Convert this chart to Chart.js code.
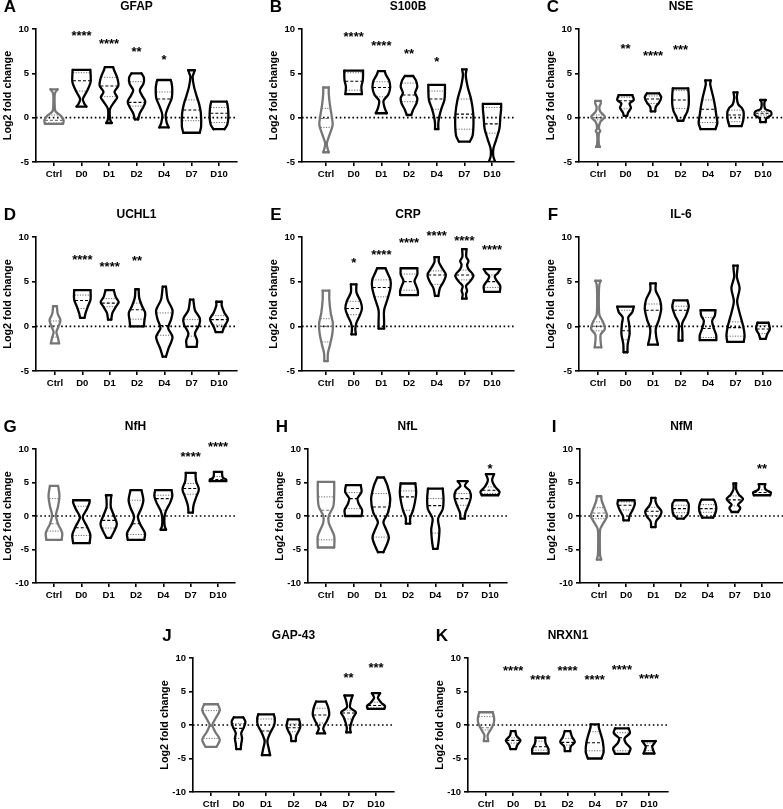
<!DOCTYPE html>
<html>
<head>
<meta charset="utf-8">
<script src="https://cdn.jsdelivr.net/npm/chart.js@4.4.1/dist/chart.umd.min.js"></script>
<style>
  html, body { margin: 0; padding: 0; background: #fff; }
  #fig { position: relative; width: 783px; height: 809px; overflow: hidden; }
  #fig canvas { position: absolute; }
</style>
</head>
<body>
<div id="fig"></div>
<script>
const GROUPS = ["Ctrl", "D0", "D1", "D2", "D4", "D7", "D10"];

// Violin outlines: [log2 value, half width] from bottom to top, one list per group
// Quartiles: [q1, median, q3]; stars: label and height
const gfapShape = [
	[[-0.7, 0.33], [-0.3, 0.35], [0.2, 0.25], [0.7, 0.06], [1.1, 0.03], [2.7, 0.03], [3.2, 0.13]],
	[[1.25, 0.18], [1.6, 0.1], [2.1, 0.05], [3.0, 0.2], [4.0, 0.33], [5.0, 0.33], [5.4, 0.32]],
	[[-0.6, 0.1], [-0.2, 0.04], [1.0, 0.04], [1.8, 0.2], [2.3, 0.3], [2.9, 0.2], [3.6, 0.34], [4.5, 0.3], [5.4, 0.18], [5.7, 0.15]],
	[[-0.2, 0.06], [0.5, 0.12], [1.2, 0.25], [1.8, 0.32], [2.5, 0.2], [3.1, 0.12], [3.8, 0.25], [4.5, 0.27], [5.0, 0.18]],
	[[-1.1, 0.17], [-0.6, 0.1], [0.3, 0.06], [1.2, 0.15], [2.2, 0.28], [3.3, 0.3], [4.0, 0.27], [4.25, 0.24]],
	[[-1.7, 0.3], [-1.0, 0.35], [0.5, 0.34], [1.5, 0.28], [2.5, 0.18], [3.5, 0.09], [4.6, 0.04], [5.0, 0.08], [5.35, 0.12]],
	[[-1.3, 0.2], [-0.8, 0.3], [0, 0.34], [1.0, 0.33], [1.6, 0.3], [1.8, 0.28]],
];
const gfapQuart = [[-0.6, -0.3, 0.3], [3.0, 4.17, 5.07], [2.37, 3.57, 4.55], [1.3, 1.73, 4.06], [0.0, 2.1, 2.9], [-0.34, 0.86, 2.0], [-0.55, 0.5, 1.15]];
const gfapStars = ["", "****", "****", "**", "*", "", ""];
const gfapStarY = [null, 9.6, 8.7, 7.8, 6.9, null, null];

const s100bShape = [
	[[-3.9, 0.1], [-3.4, 0.05], [-2.9, 0.03], [-2.0, 0.12], [-0.8, 0.24], [0.3, 0.2], [1.5, 0.14], [2.7, 0.1], [3.4, 0.1]],
	[[2.65, 0.3], [3.5, 0.28], [4.2, 0.33], [5.0, 0.34], [5.3, 0.34]],
	[[0.5, 0.2], [1.1, 0.12], [1.9, 0.08], [2.6, 0.25], [3.4, 0.32], [4.2, 0.28], [4.8, 0.17], [5.25, 0.12]],
	[[0.3, 0.08], [0.9, 0.15], [1.6, 0.27], [2.2, 0.3], [2.8, 0.22], [3.5, 0.3], [4.2, 0.25], [4.7, 0.15]],
	[[-1.3, 0.06], [-0.6, 0.06], [0.2, 0.1], [1.0, 0.17], [2.0, 0.28], [3.0, 0.3], [3.7, 0.3]],
	[[-2.7, 0.2], [-2.0, 0.3], [-0.8, 0.33], [0.5, 0.32], [2.0, 0.25], [3.5, 0.12], [4.8, 0.05], [5.45, 0.08]],
	[[-5.0, 0.12], [-4.4, 0.05], [-3.5, 0.05], [-2.5, 0.15], [-1.2, 0.27], [0, 0.3], [1.0, 0.33], [1.55, 0.33]],
];
const s100bQuart = [[-1.1, -0.1, 1.05], [3.1, 4.1, 5.07], [2.35, 3.4, 4.05], [1.8, 2.55, 3.9], [0.95, 2.1, 3.0], [-1.3, 0.4, 2.1], [-1.75, -0.7, 1.15]];
const s100bStars = ["", "****", "****", "**", "*", "", ""];
const s100bStarY = [null, 9.5, 8.5, 7.55, 6.7, null, null];

const nseShape = [
	[[-3.3, 0.07], [-3.0, 0.03], [-1.8, 0.03], [-1.5, 0.08], [-1.2, 0.03], [-0.5, 0.08], [0.1, 0.25], [0.7, 0.08], [1.2, 0.05], [1.6, 0.1], [1.9, 0.1]],
	[[0.2, 0.06], [0.6, 0.1], [1.1, 0.2], [1.6, 0.15], [2.0, 0.3], [2.55, 0.25]],
	[[0.7, 0.08], [1.2, 0.1], [1.7, 0.22], [2.3, 0.3], [2.75, 0.22]],
	[[-0.35, 0.1], [0.1, 0.15], [0.7, 0.25], [1.5, 0.3], [2.5, 0.3], [3.3, 0.28]],
	[[-1.3, 0.27], [-0.6, 0.34], [0.3, 0.3], [1.2, 0.26], [2.2, 0.2], [3.2, 0.12], [3.8, 0.08], [4.2, 0.1]],
	[[-0.95, 0.22], [-0.3, 0.28], [0.5, 0.3], [1.0, 0.25], [1.5, 0.1], [2.2, 0.05], [2.85, 0.07]],
	[[-0.5, 0.1], [-0.1, 0.12], [0.3, 0.3], [0.7, 0.28], [1.0, 0.08], [1.7, 0.05], [2.0, 0.1]],
];
const nseQuart = [[-0.25, 0, 0.3], [1.0, 1.9, 2.3], [1.6, 2.1, 2.45], [1.05, 2.0, 3.05], [-0.55, 0.95, 2.0], [-0.45, 0.3, 0.85], [0.3, 0.5, 0.7]];
const nseStars = ["", "**", "****", "***", "", "", ""];
const nseStarY = [null, 8.1, 7.4, 8.0, null, null, null];

const uchl1Shape = [
	[[-1.9, 0.15], [-1.2, 0.1], [-0.65, 0.05], [0.0, 0.13], [0.7, 0.2], [1.4, 0.1], [2.25, 0.07]],
	[[0.95, 0.08], [1.5, 0.12], [2.2, 0.2], [3.0, 0.3], [4.05, 0.3]],
	[[0.75, 0.06], [1.5, 0.1], [2.3, 0.25], [2.7, 0.33], [3.3, 0.22], [4.05, 0.15]],
	[[0.0, 0.25], [0.6, 0.27], [1.5, 0.3], [2.3, 0.18], [3.2, 0.08], [4.15, 0.06]],
	[[-3.4, 0.06], [-2.5, 0.15], [-1.2, 0.3], [-0.2, 0.14], [0.8, 0.25], [1.8, 0.3], [3.0, 0.12], [4.45, 0.06]],
	[[-2.3, 0.18], [-1.6, 0.2], [-0.8, 0.12], [0.2, 0.28], [0.9, 0.3], [1.8, 0.12], [3.0, 0.06]],
	[[-0.65, 0.12], [0, 0.2], [0.8, 0.33], [1.5, 0.2], [2.3, 0.1], [2.75, 0.1]],
];
const uchl1Quart = [[-1.2, 0.05, 0.6], [2.0, 2.9, 3.5], [2.2, 2.6, 3.1], [0.8, 1.85, 2.6], [-1.0, 0.1, 1.5], [-1.1, 0, 0.75], [0.15, 0.75, 1.2]];
const uchl1Stars = ["", "****", "****", "**", "", "", ""];
const uchl1StarY = [null, 7.8, 7.0, 7.75, null, null, null];

const crpShape = [
	[[-3.9, 0.06], [-3.0, 0.07], [-2.0, 0.15], [-0.8, 0.23], [0.3, 0.25], [1.5, 0.17], [3.0, 0.12], [4.0, 0.12]],
	[[-0.9, 0.08], [-0.3, 0.06], [0.4, 0.1], [1.2, 0.22], [2.0, 0.3], [2.8, 0.25], [3.8, 0.1], [4.7, 0.1]],
	[[-0.25, 0.1], [0.5, 0.1], [1.8, 0.1], [3.0, 0.22], [4.3, 0.33], [5.2, 0.33], [6.0, 0.22], [6.5, 0.15]],
	[[3.5, 0.32], [4.0, 0.32], [4.6, 0.25], [5.1, 0.2], [5.8, 0.3], [6.5, 0.3]],
	[[3.4, 0.06], [4.3, 0.12], [5.0, 0.25], [5.8, 0.33], [6.5, 0.2], [7.2, 0.08], [7.75, 0.08]],
	[[3.1, 0.08], [3.6, 0.06], [4.0, 0.1], [4.5, 0.06], [5.0, 0.2], [5.7, 0.33], [6.4, 0.15], [6.9, 0.1], [7.3, 0.15], [7.8, 0.07], [8.65, 0.08]],
	[[3.85, 0.28], [4.5, 0.3], [5.2, 0.15], [5.6, 0.1], [6.0, 0.22], [6.4, 0.3]],
];
const crpQuart = [[-1.75, 0, 0.85], [1.3, 2.0, 2.8], [3.3, 4.35, 5.2], [4.05, 5.0, 5.85], [4.7, 5.75, 6.2], [5.2, 5.75, 6.3], [4.35, 5.0, 5.75]];
const crpStars = ["", "*", "****", "****", "****", "****", "****"];
const crpStarY = [null, 7.45, 8.4, 9.7, 10.55, 10.0, 8.95];

const il6Shape = [
	[[-2.35, 0.12], [-1.5, 0.09], [-0.9, 0.1], [-0.3, 0.25], [0.5, 0.18], [1.3, 0.05], [3.5, 0.03], [4.7, 0.05], [5.1, 0.1]],
	[[-2.9, 0.07], [-2.0, 0.08], [-0.8, 0.15], [0.3, 0.13], [1.0, 0.1], [1.6, 0.25], [2.2, 0.3]],
	[[-2.05, 0.18], [-1.2, 0.12], [-0.3, 0.1], [0.8, 0.22], [2.0, 0.3], [3.0, 0.25], [4.0, 0.1], [4.8, 0.1]],
	[[-1.6, 0.07], [-0.8, 0.07], [0.3, 0.06], [1.2, 0.2], [2.2, 0.3], [2.9, 0.25]],
	[[-1.55, 0.3], [-1.0, 0.3], [-0.3, 0.22], [0.6, 0.15], [1.2, 0.25], [1.8, 0.27]],
	[[-1.75, 0.3], [-1.0, 0.33], [0, 0.28], [1.5, 0.15], [2.8, 0.06], [4.3, 0.15], [5.5, 0.05], [6.4, 0.07], [6.8, 0.08]],
	[[-1.4, 0.1], [-0.9, 0.15], [-0.3, 0.25], [0.2, 0.22], [0.4, 0.2]],
];
const il6Quart = [[-0.5, 0, 0.5], [-1.5, -0.5, 1.8], [-0.05, 1.8, 2.5], [0, 1.8, 2.25], [-1.25, -0.25, 1.0], [-1.1, -0.15, 0.5], [-0.8, -0.3, 0.1]];
const il6Stars = ["", "", "", "", "", "", ""];
const il6StarY = [null, null, null, null, null, null, null];

const nfhShape = [
	[[-3.55, 0.28], [-2.5, 0.3], [-1.2, 0.15], [0.1, 0.07], [1.5, 0.15], [3.0, 0.2], [4.5, 0.15]],
	[[-4.05, 0.3], [-2.8, 0.33], [-1.5, 0.2], [-0.2, 0.05], [1.0, 0.2], [2.0, 0.3], [2.35, 0.3]],
	[[-3.25, 0.08], [-2.3, 0.2], [-1.2, 0.3], [0, 0.2], [1.3, 0.08], [2.5, 0.08], [3.1, 0.1]],
	[[-3.55, 0.3], [-2.6, 0.33], [-1.2, 0.15], [-0.1, 0.07], [1.2, 0.2], [2.4, 0.27], [3.85, 0.2]],
	[[-2.05, 0.1], [-1.5, 0.05], [-0.2, 0.04], [0.8, 0.1], [2.0, 0.25], [3.0, 0.33], [3.85, 0.3]],
	[[0.5, 0.08], [1.5, 0.1], [2.8, 0.2], [4.0, 0.3], [5.2, 0.2], [6.0, 0.18], [6.45, 0.18]],
	[[5.2, 0.3], [5.45, 0.3], [5.7, 0.18], [6.2, 0.15], [6.6, 0.15]],
];
const nfhQuart = [[-2.25, -1.15, 2.6], [-2.9, -1.75, 1.45], [-1.8, -0.65, 1.2], [-2.75, -1.15, 2.35], [0.85, 2.6, 3.1], [3.25, 4.1, 4.85], [5.3, 5.45, 5.9]];
const nfhStars = ["", "", "", "", "", "****", "****"];
const nfhStarY = [null, null, null, null, null, 9.3, 10.8];

const nflShape = [
	[[-4.7, 0.3], [-3.0, 0.3], [-1.0, 0.1], [0, 0.1], [1.5, 0.27], [3.5, 0.3], [5.1, 0.3]],
	[[0, 0.3], [0.9, 0.32], [1.8, 0.2], [2.6, 0.15], [3.6, 0.3], [4.6, 0.27]],
	[[-5.4, 0.1], [-4.5, 0.2], [-3.2, 0.3], [-2.0, 0.2], [-0.9, 0.1], [0.5, 0.27], [2.5, 0.35], [4.5, 0.25], [5.75, 0.12]],
	[[-1.15, 0.08], [-0.3, 0.08], [0.8, 0.18], [2.0, 0.25], [3.5, 0.3], [4.85, 0.27]],
	[[-4.9, 0.08], [-3.8, 0.12], [-2.0, 0.15], [-0.4, 0.1], [1.0, 0.27], [2.5, 0.3], [4.1, 0.27]],
	[[-0.4, 0.08], [0.5, 0.1], [1.5, 0.2], [2.8, 0.3], [3.8, 0.25], [4.5, 0.08], [5.2, 0.18]],
	[[3.1, 0.3], [3.6, 0.35], [4.3, 0.2], [5.0, 0.1], [5.5, 0.08], [6.25, 0.15]],
];
const nflQuart = [[-3.55, 0.85, 2.85], [1.1, 2.6, 3.5], [-3.15, 1.35, 3.35], [0.85, 2.85, 3.75], [-2.55, 1.55, 2.6], [1.6, 2.6, 3.35], [3.35, 3.85, 4.35]];
const nflStars = ["", "", "", "", "", "", "*"];
const nflStarY = [null, null, null, null, null, null, 7.6];

const nfmShape = [
	[[-6.5, 0.08], [-5.8, 0.04], [-3.0, 0.03], [-1.9, 0.05], [-0.8, 0.2], [0, 0.3], [1.2, 0.2], [2.3, 0.1], [2.95, 0.08]],
	[[-0.65, 0.1], [0, 0.12], [1.0, 0.25], [1.8, 0.32], [2.35, 0.3]],
	[[-1.65, 0.08], [-0.8, 0.1], [0, 0.25], [0.7, 0.3], [1.5, 0.15], [2.2, 0.08], [2.7, 0.08]],
	[[-0.4, 0.12], [0.3, 0.27], [1.0, 0.3], [1.8, 0.3], [2.35, 0.22]],
	[[-0.25, 0.2], [0.4, 0.28], [1.2, 0.32], [2.0, 0.28], [2.45, 0.22]],
	[[0.6, 0.12], [1.2, 0.2], [1.7, 0.12], [2.5, 0.3], [3.2, 0.15], [4.0, 0.05], [4.85, 0.05]],
	[[3.1, 0.3], [3.5, 0.33], [3.9, 0.15], [4.3, 0.1], [4.75, 0.12]],
];
const nfmQuart = [[-0.4, 0.45, 1.25], [0.9, 1.6, 2.1], [0.05, 0.7, 1.3], [0.5, 1.1, 1.6], [0.55, 1.1, 1.7], [1.5, 2.4, 3.0], [3.2, 3.5, 3.9]];
const nfmStars = ["", "", "", "", "", "", "**"];
const nfmStarY = [null, null, null, null, null, null, 7.6];

const gap43Shape = [
	[[-3.25, 0.2], [-2.2, 0.32], [-1.0, 0.15], [0, 0.05], [1.0, 0.17], [2.2, 0.32], [3.1, 0.25]],
	[[-3.6, 0.08], [-2.8, 0.1], [-2.0, 0.13], [-1.2, 0.1], [-0.3, 0.2], [0.5, 0.25], [1.15, 0.17]],
	[[-4.5, 0.15], [-3.5, 0.1], [-2.4, 0.05], [-1.2, 0.15], [0, 0.3], [1.0, 0.32], [1.6, 0.28]],
	[[-2.4, 0.08], [-1.6, 0.1], [-0.8, 0.2], [-0.2, 0.25], [0.4, 0.23], [0.85, 0.2]],
	[[-1.25, 0.15], [-0.5, 0.08], [0.5, 0.2], [1.5, 0.3], [2.5, 0.27], [3.5, 0.18]],
	[[-1.1, 0.08], [-0.5, 0.06], [0.3, 0.1], [1.2, 0.18], [1.9, 0.27], [2.6, 0.06], [3.5, 0.08], [4.4, 0.15]],
	[[2.4, 0.3], [2.8, 0.33], [3.3, 0.2], [4.0, 0.07], [4.4, 0.1], [4.75, 0.15]],
];
const gap43Quart = [[-2.0, -0.2, 2.15], [-2.0, -0.5, 0.2], [-2.2, -0.9, 0.9], [-1.0, -0.4, 0.15], [0.3, 1.5, 2.5], [0.9, 1.8, 2.2], [2.55, 2.9, 3.4]];
const gap43Stars = ["", "", "", "", "", "**", "***"];
const gap43StarY = [null, null, null, null, null, 7.6, 9.0];

const nrxn1Shape = [
	[[-2.4, 0.08], [-1.5, 0.06], [-0.7, 0.17], [0.2, 0.28], [1.0, 0.3], [1.9, 0.25]],
	[[-3.6, 0.1], [-3.0, 0.15], [-2.3, 0.27], [-1.6, 0.12], [-0.9, 0.08]],
	[[-4.25, 0.3], [-3.6, 0.3], [-2.8, 0.2], [-2.3, 0.18], [-1.9, 0.18]],
	[[-3.9, 0.1], [-3.2, 0.12], [-2.5, 0.27], [-1.8, 0.17], [-0.9, 0.1]],
	[[-5.0, 0.25], [-4.0, 0.33], [-2.5, 0.3], [-1.0, 0.2], [-0.3, 0.15], [0.1, 0.15]],
	[[-4.3, 0.25], [-3.5, 0.32], [-2.7, 0.15], [-2.0, 0.1], [-1.2, 0.3], [-0.5, 0.25]],
	[[-4.25, 0.2], [-3.7, 0.15], [-3.2, 0.12], [-2.7, 0.2], [-2.4, 0.25]],
];
const nrxn1Quart = [[-0.75, -0.4, 1.25], [-2.7, -2.3, -1.9], [-3.75, -3.25, -2.4], [-3.0, -2.6, -2.0], [-3.85, -2.65, -1.0], [-3.85, -1.9, -1.15], [-3.8, -3.1, -2.7]];
const nrxn1Stars = ["", "****", "****", "****", "****", "****", "****"];
const nrxn1StarY = [null, 8.65, 7.2, 8.65, 7.2, 8.8, 7.4];

//---------------------------------------------------------
// Panels: data + where each plot sits on the page
//---------------------------------------------------------
const PANELS = [
	{ letter: "A", title: "GFAP", shape: gfapShape, quart: gfapQuart, stars: gfapStars, starY: gfapStarY, yMin: -5, box: [36, 54, 219, 237, 29, 162] },
	{ letter: "B", title: "S100B", shape: s100bShape, quart: s100bQuart, stars: s100bStars, starY: s100bStarY, yMin: -5, box: [302, 326, 492, 514, 29, 162] },
	{ letter: "C", title: "NSE", shape: nseShape, quart: nseQuart, stars: nseStars, starY: nseStarY, yMin: -5, box: [579, 598, 763, 790, 29, 162] },
	{ letter: "D", title: "UCHL1", shape: uchl1Shape, quart: uchl1Quart, stars: uchl1Stars, starY: uchl1StarY, yMin: -5, box: [36, 55, 219, 237, 237, 371] },
	{ letter: "E", title: "CRP", shape: crpShape, quart: crpQuart, stars: crpStars, starY: crpStarY, yMin: -5, box: [302, 326, 492, 514, 237, 371] },
	{ letter: "F", title: "IL-6", shape: il6Shape, quart: il6Quart, stars: il6Stars, starY: il6StarY, yMin: -5, box: [579, 598, 763, 790, 237, 371] },
	{ letter: "G", title: "NfH", shape: nfhShape, quart: nfhQuart, stars: nfhStars, starY: nfhStarY, yMin: -10, box: [36, 54, 218, 235, 449, 583] },
	{ letter: "H", title: "NfL", shape: nflShape, quart: nflQuart, stars: nflStars, starY: nflStarY, yMin: -10, box: [308, 326, 490, 507, 449, 583] },
	{ letter: "I", title: "NfM", shape: nfmShape, quart: nfmQuart, stars: nfmStars, starY: nfmStarY, yMin: -10, box: [580, 599, 762, 790, 449, 583] },
	{ letter: "J", title: "GAP-43", shape: gap43Shape, quart: gap43Quart, stars: gap43Stars, starY: gap43StarY, yMin: -10, box: [193, 211, 376, 394, 658, 792] },
	{ letter: "K", title: "NRXN1", shape: nrxn1Shape, quart: nrxn1Quart, stars: nrxn1Stars, starY: nrxn1StarY, yMin: -10, box: [468, 486, 649, 668, 658, 792] },
];

const FAMILY = "'Liberation Sans', Arial, Helvetica, sans-serif";
const CTRL_COLOR = "#767676";
const AXIS_W = 36;
const PAD_TOP = 30;
const AXIS_H = 30;

Chart.defaults.font.family = FAMILY;
Chart.defaults.font.weight = "bold";
Chart.defaults.font.size = 9.5;
Chart.defaults.color = "#000";

const gap = () => ({ x: null, y: null });

// half width of a violin at a given value (linear between outline knots)
const widthAt = (profile, y) => {
	for (let k = 0; k < profile.length - 1; k++) {
		const [y0, w0] = profile[k];
		const [y1, w1] = profile[k + 1];
		if (y >= y0 && y <= y1) return w0 + ((w1 - w0) * (y - y0)) / (y1 - y0);
	}
	return 0;
};

const sides = (shape, keep) => {
	const pts = [];
	shape.forEach((prof, i) => {
		if (!keep(i)) return;
		prof.forEach(([y, w]) => pts.push({ x: i + w, y }));
		pts.push(gap());
		prof.forEach(([y, w]) => pts.push({ x: i - w, y }));
		pts.push(gap());
	});
	return pts;
};

const caps = (shape, keep) => {
	const pts = [];
	shape.forEach((prof, i) => {
		if (!keep(i)) return;
		const [yb, wb] = prof[0];
		const [yt, wt] = prof[prof.length - 1];
		pts.push({ x: i - wb, y: yb }, { x: i + wb, y: yb }, gap(), { x: i - wt, y: yt }, { x: i + wt, y: yt }, gap());
	});
	return pts;
};

const qLines = (shape, quart, keep, which) => {
	const pts = [];
	quart.forEach((q, i) => {
		if (!keep(i)) return;
		which.forEach((j) => {
			const w = Math.max(widthAt(shape[i], q[j]) - 0.02, 0.02);
			pts.push({ x: i - w, y: q[j] }, { x: i + w, y: q[j] }, gap());
		});
	});
	return pts;
};

const line = (data, color, width, extra) => ({
	type: "line",
	data,
	borderColor: color,
	borderWidth: width,
	pointRadius: 0,
	fill: false,
	spanGaps: false,
	borderCapStyle: "round",
	borderJoinStyle: "round",
	...extra,
});

// Text layer: panel letter, title, significance stars
const textPlugin = {
	id: "panelText",
	afterDraw(chart) {
		const { ctx, chartArea, scales } = chart;
		const p = chart.options.plugins.panelText;
		ctx.save();
		ctx.fillStyle = "#000";
		ctx.textBaseline = "middle";
		ctx.textAlign = "center";
		ctx.font = `bold 12px ${FAMILY}`;
		ctx.fillText(p.title, (chartArea.left + Math.min(chartArea.right, 783 - p.left)) / 2, chartArea.top - 22);
		ctx.font = `bold 17px ${FAMILY}`;
		ctx.fillText(p.letter, chartArea.left - 26, chartArea.top - 22);
		ctx.font = `bold 13px ${FAMILY}`;
		ctx.textBaseline = "alphabetic";
		p.stars.forEach((s, i) => {
			if (!s) return;
			ctx.fillText(s, scales.x.getPixelForValue(i), scales.y.getPixelForValue(p.starY[i]) + 7.5);
		});
		ctx.restore();
	},
};

const FIG = document.getElementById("fig");

PANELS.forEach((p) => {
	const [axisX, ctrlX, lastX, rightX, topY, bottomY] = p.box;
	const step = (lastX - ctrlX) / (GROUPS.length - 1);
	const xMin = -(ctrlX - axisX) / step;
	const xMax = GROUPS.length - 1 + (rightX - lastX) / step;

	const canvas = document.createElement("canvas");
	const cw = rightX - axisX + AXIS_W + 4;
	const ch = bottomY - topY + PAD_TOP + AXIS_H;
	canvas.width = cw;
	canvas.height = ch;
	canvas.style.left = axisX - AXIS_W + "px";
	canvas.style.top = topY - PAD_TOP + "px";
	canvas.style.width = cw + "px";
	canvas.style.height = ch + "px";
	FIG.appendChild(canvas);

	const isCtrl = (i) => i === 0;
	const notCtrl = (i) => i !== 0;
	const medStyle = { borderDash: [3, 2], borderCapStyle: "butt" };
	const qStyle = { borderDash: [1.2, 1.4], borderCapStyle: "butt" };

	new Chart(canvas, {
		type: "line",
		data: {
			datasets: [
				line(sides(p.shape, notCtrl), "#000", 2.3, { tension: 0.3 }),
				line(caps(p.shape, notCtrl), "#000", 2.3, { tension: 0 }),
				line(sides(p.shape, isCtrl), CTRL_COLOR, 2.3, { tension: 0.3 }),
				line(caps(p.shape, isCtrl), CTRL_COLOR, 2.3, { tension: 0 }),
				line(qLines(p.shape, p.quart, notCtrl, [1]), "#000", 1.1, medStyle),
				line(qLines(p.shape, p.quart, isCtrl, [1]), CTRL_COLOR, 1.1, medStyle),
				line(qLines(p.shape, p.quart, () => true, [0, 2]), "#6a6a6a", 1, qStyle),
				line([{ x: xMin, y: 0 }, { x: xMax, y: 0 }], "#000", 1.6, { borderDash: [1.6, 2.6], borderCapStyle: "butt" }),
			],
		},
		options: {
			responsive: false,
			animation: false,
			devicePixelRatio: 1,
			layout: { padding: { left: 0, top: PAD_TOP, right: 4, bottom: 0 } },
			scales: {
				x: {
					type: "linear",
					min: xMin,
					max: xMax,
					afterBuildTicks: (s) => {
						s.ticks = GROUPS.map((g, i) => ({ value: i }));
					},
					afterFit: (s) => {
						s.height = AXIS_H;
					},
					border: { display: true, color: "#000", width: 1.6 },
					grid: { display: true, drawOnChartArea: false, drawTicks: true, tickLength: 4, color: "#000", lineWidth: 1.6 },
					ticks: {
						autoSkip: false,
						maxRotation: 0,
						padding: 3,
						font: { size: 9.5, weight: "bold" },
						callback: (v) => GROUPS[v],
					},
				},
				y: {
					min: p.yMin,
					max: 10,
					afterBuildTicks: (s) => {
						const t = [];
						for (let v = 10; v >= p.yMin; v -= 5) t.push({ value: v });
						s.ticks = t;
					},
					afterFit: (s) => {
						s.width = AXIS_W;
					},
					border: { display: true, color: "#000", width: 1.6 },
					grid: { display: true, drawOnChartArea: false, drawTicks: true, tickLength: 4, color: "#000", lineWidth: 1.6 },
					ticks: { padding: 3, font: { size: 9.5, weight: "bold" } },
					title: {
						display: true,
						text: "Log2 fold change",
						font: { size: 10.8, weight: "bold" },
						padding: { top: 2, bottom: 0 },
					},
				},
			},
			plugins: {
				legend: { display: false },
				tooltip: { enabled: false },
				panelText: { title: p.title, letter: p.letter, stars: p.stars, starY: p.starY, left: axisX - AXIS_W },
			},
		},
		plugins: [textPlugin],
	});
});
</script>
</body>
</html>
